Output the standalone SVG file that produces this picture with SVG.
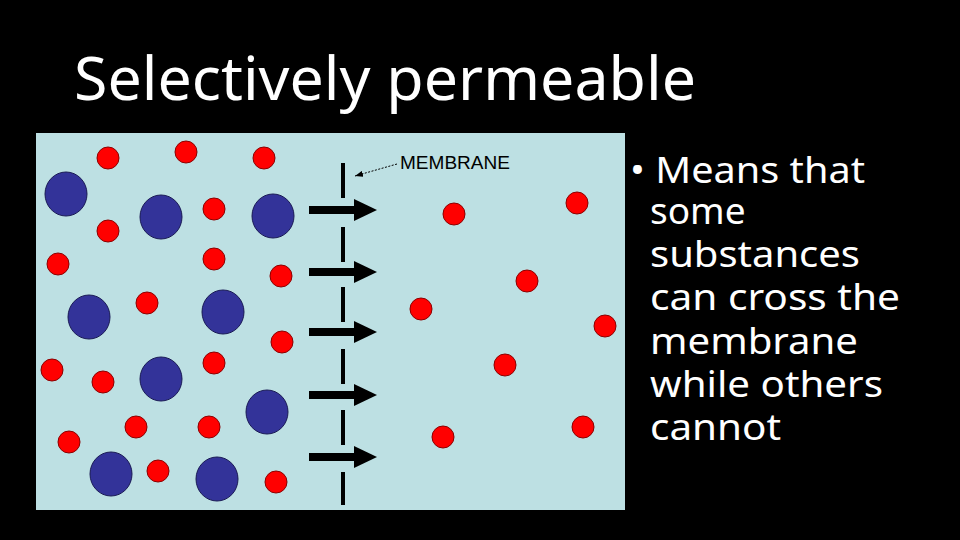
<svg xmlns="http://www.w3.org/2000/svg" width="960" height="540" viewBox="0 0 960 540">
<style>
.r{fill:#ff0000;stroke:#8b0000;stroke-width:1}
.b{fill:#333399;stroke:#1a1a55;stroke-width:1}
.t{fill:#fff;font-family:"Noto Sans","Open Sans",sans-serif}
.m{stroke:#000;stroke-width:4}
</style>
<defs>
<marker id="ah" markerWidth="8" markerHeight="6" refX="8" refY="3" orient="auto"><path d="M0,0L8,3L0,6z" fill="#000"/></marker>
<g id="arr"><rect x="309" y="-4" width="47" height="8" fill="#000"/><path d="M354,-11L377,0L354,11z" fill="#000"/></g>
</defs>
<rect width="960" height="540" fill="#000"/>
<text class="t" x="74" y="100" font-size="60" textLength="622" lengthAdjust="spacingAndGlyphs">Selectively permeable</text>
<rect x="36" y="133" width="589" height="377" fill="#bde0e3"/>
<g id="membrane">
<path class="m" d="M343,163V198M343,227V262M343,287V322M343,349V384M343,410V445M343,472V505"/>
</g>
<g id="connectors">
<use href="#arr" y="210"/><use href="#arr" y="272"/><use href="#arr" y="332"/><use href="#arr" y="395"/><use href="#arr" y="457"/>
<line x1="397" y1="164" x2="355" y2="176" stroke="#000" stroke-width="1" stroke-dasharray="2,1.5" marker-end="url(#ah)"/>
</g>
<text x="400" y="169" font-family="Liberation Sans,sans-serif" font-size="18" fill="#000" textLength="110" lengthAdjust="spacingAndGlyphs">MEMBRANE</text>
<g id="small">
<circle class="r" cx="108" cy="158" r="11"/><circle class="r" cx="186" cy="152" r="11"/><circle class="r" cx="264" cy="158" r="11"/>
<circle class="r" cx="214" cy="209" r="11"/><circle class="r" cx="108" cy="231" r="11"/><circle class="r" cx="58" cy="264" r="11"/>
<circle class="r" cx="214" cy="259" r="11"/><circle class="r" cx="281" cy="276" r="11"/><circle class="r" cx="147" cy="303" r="11"/>
<circle class="r" cx="282" cy="342" r="11"/><circle class="r" cx="52" cy="370" r="11"/><circle class="r" cx="103" cy="382" r="11"/>
<circle class="r" cx="214" cy="363" r="11"/><circle class="r" cx="136" cy="427" r="11"/><circle class="r" cx="209" cy="427" r="11"/>
<circle class="r" cx="69" cy="442" r="11"/><circle class="r" cx="158" cy="471" r="11"/><circle class="r" cx="276" cy="482" r="11"/>
<circle class="r" cx="454" cy="214" r="11"/><circle class="r" cx="577" cy="203" r="11"/><circle class="r" cx="527" cy="281" r="11"/>
<circle class="r" cx="421" cy="309" r="11"/><circle class="r" cx="605" cy="326" r="11"/><circle class="r" cx="505" cy="365" r="11"/>
<circle class="r" cx="443" cy="437" r="11"/><circle class="r" cx="583" cy="427" r="11"/>
</g>
<g id="large">
<ellipse class="b" cx="66" cy="194" rx="21" ry="22"/><ellipse class="b" cx="161" cy="217" rx="21" ry="22"/><ellipse class="b" cx="273" cy="216" rx="21" ry="22"/>
<ellipse class="b" cx="89" cy="317" rx="21" ry="22"/><ellipse class="b" cx="223" cy="312" rx="21" ry="22"/><ellipse class="b" cx="161" cy="379" rx="21" ry="22"/>
<ellipse class="b" cx="267" cy="412" rx="21" ry="22"/><ellipse class="b" cx="111" cy="474" rx="21" ry="22"/><ellipse class="b" cx="217" cy="479" rx="21" ry="22"/>
</g>
<g id="bullet" class="t" font-size="37">
<text x="630" y="183" textLength="235" lengthAdjust="spacingAndGlyphs">• Means that</text>
<text x="650" y="224">some</text>
<text x="650" y="267" textLength="210" lengthAdjust="spacingAndGlyphs">substances</text>
<text x="650" y="310" textLength="250" lengthAdjust="spacingAndGlyphs">can cross the</text>
<text x="650" y="354" textLength="208" lengthAdjust="spacingAndGlyphs">membrane</text>
<text x="650" y="397" textLength="233" lengthAdjust="spacingAndGlyphs">while others</text>
<text x="650" y="440" textLength="131" lengthAdjust="spacingAndGlyphs">cannot</text>
</g>
</svg>
